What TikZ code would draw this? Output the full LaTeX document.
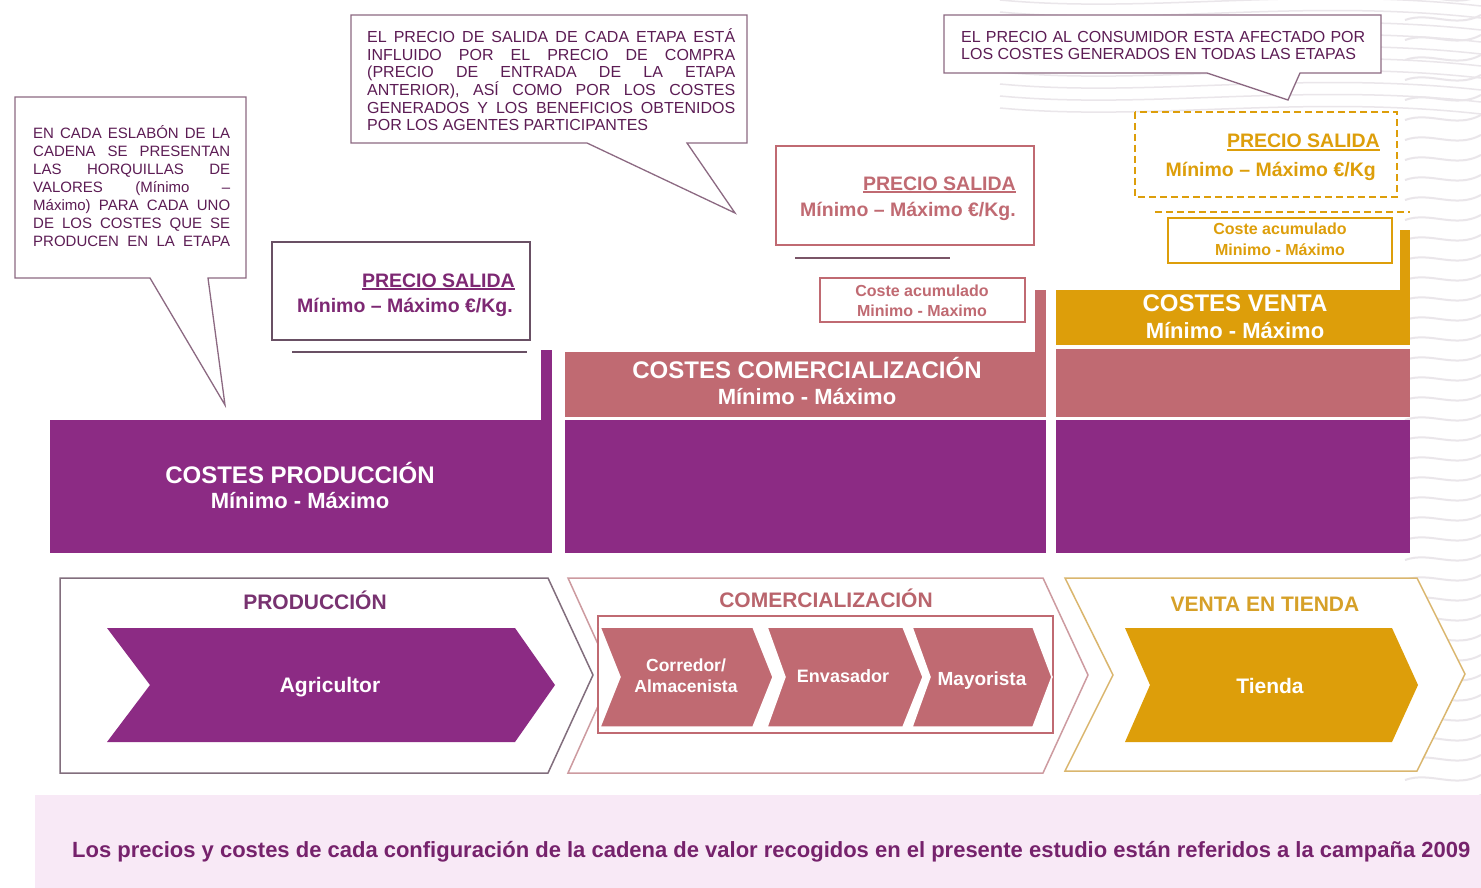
\documentclass[tikz,border=0pt]{standalone}
\usepackage{fontspec}
\setmainfont{Liberation Sans}
\usepackage{graphicx}
\newcommand{\thul}[1]{\leavevmode\setbox0\hbox{#1}\rlap{\rule[-3.4pt]{\wd0}{2.2pt}}\box0}
\newcommand{\jline}[2]{\hbox to #1{#2}}
\definecolor{purp}{RGB}{140,43,132}
\definecolor{pinkc}{RGB}{192,106,114}
\definecolor{goldc}{RGB}{221,158,10}
\definecolor{calltext}{RGB}{92,28,84}
\definecolor{callborder}{RGB}{140,105,130}
\definecolor{prodtxt}{RGB}{120,50,112}
\definecolor{comtxt}{RGB}{185,100,108}
\definecolor{ventxt}{RGB}{214,160,40}
\definecolor{prodline}{RGB}{130,110,125}
\definecolor{comline}{RGB}{205,155,160}
\definecolor{venline}{RGB}{218,182,110}
\definecolor{bandc}{RGB}{248,233,246}
\definecolor{bandtext}{RGB}{118,34,108}
\definecolor{pstxt}{RGB}{125,40,115}
\definecolor{psbord}{RGB}{105,80,100}
\definecolor{wavec}{RGB}{234,230,234}
\tikzset{
 callout/.style={draw=callborder, line width=1.3pt, fill=white, line join=miter},
 cline/.style={anchor=base west, inner sep=0pt, text=calltext},
 barT/.style={anchor=base, inner sep=0pt, text=white, font=\bfseries\fontsize{24}{26}\selectfont},
 barS/.style={anchor=base, inner sep=0pt, text=white, font=\bfseries\fontsize{22}{24}\selectfont},
 psT/.style={anchor=base east, inner sep=0pt, font=\bfseries\fontsize{19.5}{22}\selectfont},
 acc/.style={anchor=base, inner sep=0pt, font=\bfseries\fontsize{16}{18}\selectfont},
 hdr/.style={anchor=base, inner sep=0pt, font=\bfseries\fontsize{21}{24}\selectfont},
 chevlbl/.style={anchor=base, inner sep=0pt, text=white, font=\bfseries\fontsize{19}{21}\selectfont},
 outline/.style={line width=1.5pt, fill=white, line join=miter},
 inchev/.style={draw=white, line width=1.5pt},
 cfa/.style={font=\fontsize{15}{18}\selectfont},
 cfb/.style={font=\fontsize{16}{18}\selectfont},
}
\begin{document}
\begin{tikzpicture}[x=1pt,y=-1pt]
\useasboundingbox (0,0) rectangle (1481,888);
\fill[white] (0,0) rectangle (1481,888);
% faint background waves
\foreach \k in {0,...,40}
  \draw[wavec, line width=2pt] (1405,20*\k) .. controls (1430,20*\k-9) and (1455,20*\k+9) .. (1481,20*\k-5);
\foreach \k in {0,...,9}
  \draw[wavec, line width=1.5pt] (1000,12*\k) .. controls (1150,12*\k+14) and (1300,12*\k-14) .. (1481,12*\k+6);

% ---------- callouts ----------
\draw[callout] (15,97) -- (246,97) -- (246,278) -- (208,278) -- (225,405) -- (150,278) -- (15,278) -- cycle;
\node[cline, cfa] (lc0) at (33,138.4) {\jline{197pt}{EN CADA ESLABÓN DE LA}};
\node[cline, cfa] (lc1) at (33,156.4) {\jline{197pt}{CADENA SE PRESENTAN}};
\node[cline, cfa] (lc2) at (33,174.4) {\jline{197pt}{LAS HORQUILLAS DE}};
\node[cline, cfa] (lc3) at (33,192.4) {\jline{197pt}{VALORES (Mínimo –}};
\node[cline, cfa] (lc4) at (33,210.4) {\jline{197pt}{Máximo) PARA CADA UNO}};
\node[cline, cfa] (lc5) at (33,228.4) {\jline{197pt}{DE LOS COSTES QUE SE}};
\node[cline, cfa] (lc6) at (33,246.4) {\jline{197pt}{PRODUCEN EN LA ETAPA}};

\draw[callout] (351,15) -- (747,15) -- (747,143) -- (687,143) -- (735,213) -- (587,143) -- (351,143) -- cycle;
\node[cline, cfb] (mc0) at (367,42.7) {\jline{368pt}{EL PRECIO DE SALIDA DE CADA ETAPA ESTÁ}};
\node[cline, cfb] (mc1) at (367,60.3) {\jline{368pt}{INFLUIDO POR EL PRECIO DE COMPRA}};
\node[cline, cfb] (mc2) at (367,77.9) {\jline{368pt}{(PRECIO DE ENTRADA DE LA ETAPA}};
\node[cline, cfb] (mc3) at (367,95.5) {\jline{368pt}{ANTERIOR), ASÍ COMO POR LOS COSTES}};
\node[cline, cfb] (mc4) at (367,113.1) {\jline{368pt}{GENERADOS Y LOS BENEFICIOS OBTENIDOS}};
\node[cline, cfb] (mc5) at (367,130.7) {POR LOS AGENTES PARTICIPANTES};

\draw[callout] (944,15) -- (1381,15) -- (1381,73) -- (1300,73) -- (1288,100) -- (1207,73) -- (944,73) -- cycle;
\node[cline, cfb] (rc0) at (961,42.7) {\jline{404pt}{EL PRECIO AL CONSUMIDOR ESTA AFECTADO POR}};
\node[cline, cfb] (rc1) at (961,59.7) {LOS COSTES GENERADOS EN TODAS LAS ETAPAS};

% ---------- precio salida boxes ----------
\draw[psbord, line width=1.3pt] (272,242) rectangle (530,340);
\node[psT, text=pstxt] (ps1a) at (515,287) {\thul{PRECIO SALIDA}};
\node[psT, text=pstxt] (ps1b) at (513,312) {Mínimo – Máximo €/Kg.};
\draw[psbord, line width=1.6pt] (292,352) -- (527,352);

\draw[pinkc, line width=1.3pt] (776,146) rectangle (1034,245);
\node[psT, text=pinkc] (ps2a) at (1016,190) {\thul{PRECIO SALIDA}};
\node[psT, text=pinkc] (ps2b) at (1016,216) {Mínimo – Máximo €/Kg.};
\draw[psbord!80!pinkc, line width=1.6pt] (795,258) -- (950,258);
\draw[pinkc, line width=1.3pt] (820,278) rectangle (1025,322);
\node[acc, text=pinkc] (ca2a) at (922,296) {Coste acumulado};
\node[acc, text=pinkc] (ca2b) at (922,316) {Minimo - Maximo};

\draw[goldc, line width=1.3pt, dash pattern=on 7pt off 4pt] (1135,112) rectangle (1397,197);
\node[psT, text=goldc] (ps3a) at (1380,148) {\thul{PRECIO SALIDA}};
\node[psT, text=goldc] (ps3b) at (1376,177) {Mínimo – Máximo €/Kg};
\draw[goldc, line width=1.6pt, dash pattern=on 7pt off 4pt] (1155,212) -- (1410,212);
\draw[goldc, line width=1.3pt] (1168,218) rectangle (1392,263);
\node[acc, text=goldc] (ca3a) at (1280,234) {Coste acumulado};
\node[acc, text=goldc] (ca3b) at (1280,255) {Minimo - Máximo};

% ---------- cost bars ----------
\fill[purp] (541,350) rectangle (552,420);
\fill[purp] (50,420) rectangle (552,553);
\node[barT] (prodT) at (300,483.6) {COSTES PRODUCCIÓN};
\node[barS] (prodS) at (300,508) {Mínimo - Máximo};

\fill[pinkc] (1035,290) rectangle (1046,352);
\fill[pinkc] (565,352) rectangle (1046,417);
\fill[purp] (565,420) rectangle (1046,553);
\node[barT] (comT) at (807,378.6) {COSTES COMERCIALIZACIÓN};
\node[barS] (comS) at (807,404) {Mínimo - Máximo};

\fill[goldc] (1400,230) rectangle (1410,290);
\fill[goldc] (1056,290) rectangle (1410,345);
\fill[pinkc] (1056,349) rectangle (1410,417);
\fill[purp] (1056,420) rectangle (1410,553);
\node[barT] (venT) at (1235,311.6) {COSTES VENTA};
\node[barS] (venS) at (1235,338) {Mínimo - Máximo};

% ---------- stage chevrons ----------
\draw[outline, draw=prodline] (60,578) -- (548,578) -- (593,675) -- (548,773) -- (60,773) -- cycle;
\draw[outline, draw=comline] (568,578) -- (1043,578) -- (1088,675) -- (1043,773) -- (568,773) -- (612,675) -- cycle;
\draw[outline, draw=venline] (1065,578) -- (1417,578) -- (1465,674) -- (1417,771) -- (1065,771) -- (1113,675) -- cycle;

\node[hdr, text=prodtxt] (hprod) at (315,609.5) {PRODUCCIÓN};
\node[hdr, text=comtxt] (hcom) at (826,607.5) {COMERCIALIZACIÓN};
\node[hdr, text=ventxt] (hven) at (1265,611) {VENTA EN TIENDA};

\fill[purp] (107,628) -- (515,628) -- (555,685) -- (515,742) -- (107,742) -- (150,685) -- cycle;
\node[chevlbl, font=\bfseries\fontsize{21}{23}\selectfont] (agri) at (330,692.5) {Agricultor};

\fill[white] (598,616) rectangle (1053,733);
\draw[pinkc, line width=1.3pt] (598,616) rectangle (1053,733);
\filldraw[inchev, fill=pinkc] (600,627) -- (753,627) -- (773,677) -- (753,727) -- (600,727) -- (620,677) -- cycle;
\filldraw[inchev, fill=pinkc] (767,627) -- (903,627) -- (923,677) -- (903,727) -- (767,727) -- (785,677) -- cycle;
\filldraw[inchev, fill=pinkc] (912,627) -- (1033,627) -- (1052,677) -- (1033,727) -- (912,727) -- (930,677) -- cycle;
\node[chevlbl, font=\bfseries\fontsize{17.5}{21}\selectfont] (corr1) at (686,671.5) {Corredor/};
\node[chevlbl, font=\bfseries\fontsize{17.5}{21}\selectfont] (corr2) at (686,692.5) {Almacenista};
\node[chevlbl, font=\bfseries\fontsize{18}{21}\selectfont] (envas) at (843,682.5) {Envasador};
\node[chevlbl, font=\bfseries\fontsize{19}{21}\selectfont] (mayor) at (982,685) {Mayorista};

\fill[goldc] (1125,628) -- (1392,628) -- (1418,685) -- (1392,742) -- (1125,742) -- (1150,685) -- cycle;
\node[chevlbl, font=\bfseries\fontsize{21}{23}\selectfont] (tienda) at (1270,693.5) {Tienda};

% ---------- bottom band ----------
\fill[bandc] (35,795) rectangle (1481,888);
\node[anchor=base west, inner sep=0pt, text=bandtext] (nota) at (72,857) {\resizebox{1398pt}{!}{\fontsize{17}{20}\selectfont\bfseries Los precios y costes de cada configuración de la cadena de valor recogidos en el presente estudio están referidos a la campaña 2009}};
\end{tikzpicture}
\end{document}
